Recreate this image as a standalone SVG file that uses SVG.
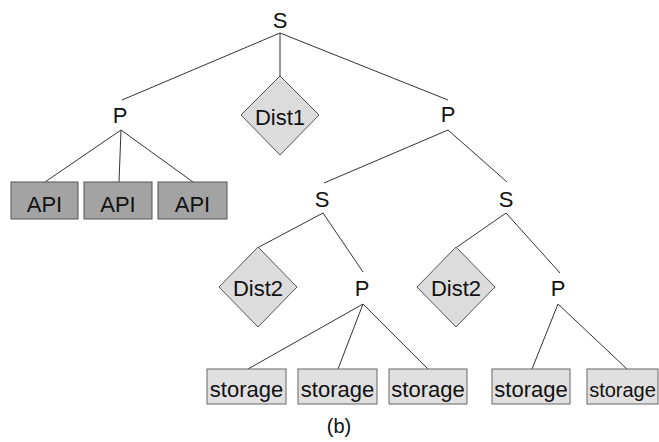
<svg xmlns="http://www.w3.org/2000/svg" width="659" height="442" viewBox="0 0 659 442">
<style>
text{font-family:"Liberation Sans",Arial,sans-serif;font-size:22px;fill:#111;text-anchor:middle}
.api{fill:#a3a3a3;stroke:#555;stroke-width:1}
.sto{fill:#e0e0e0;stroke:#666;stroke-width:1}
.dia{fill:#dcdcdc;stroke:#555;stroke-width:1}
#connectors line{stroke:#333;stroke-width:1}
</style>
<rect width="659" height="442" fill="#fff"/>
<g id="connectors">
<line x1="280" y1="33" x2="122" y2="100"/>
<line x1="280" y1="33" x2="280" y2="76"/>
<line x1="280" y1="33" x2="448" y2="100"/>
<line x1="121" y1="130" x2="45" y2="182"/>
<line x1="121" y1="130" x2="119" y2="182"/>
<line x1="121" y1="130" x2="193" y2="182"/>
<line x1="448" y1="130" x2="324" y2="183"/>
<line x1="448" y1="130" x2="507" y2="182"/>
<line x1="323" y1="213" x2="259" y2="247"/>
<line x1="323" y1="213" x2="363" y2="272"/>
<line x1="506" y1="213" x2="457" y2="247"/>
<line x1="506" y1="213" x2="560" y2="273"/>
<line x1="363" y1="304" x2="248" y2="369"/>
<line x1="363" y1="304" x2="338" y2="369"/>
<line x1="363" y1="304" x2="428" y2="369"/>
<line x1="558" y1="304" x2="532" y2="369"/>
<line x1="558" y1="304" x2="627" y2="369"/>
</g>
<g id="s-root"><text x="280" y="28">S</text></g>
<g id="p-left"><text x="120" y="123">P</text></g>
<g id="dist1"><polygon class="dia" points="280,76 319,115 280,155 241,115"/><text x="280" y="125">Dist1</text></g>
<g id="p-right"><text x="448" y="122">P</text></g>
<g id="api1"><rect class="api" x="11" y="182" width="67" height="37"/><text x="44.5" y="212">API</text></g>
<g id="api2"><rect class="api" x="84" y="182" width="68" height="37"/><text x="118" y="212">API</text></g>
<g id="api3"><rect class="api" x="158" y="182" width="69" height="37"/><text x="192.5" y="212">API</text></g>
<g id="s-left"><text x="322" y="207">S</text></g>
<g id="s-right"><text x="506" y="207">S</text></g>
<g id="dist2a"><polygon class="dia" points="258,247 297,287 258,327 219,287"/><text x="258" y="296">Dist2</text></g>
<g id="p-mid"><text x="362" y="296">P</text></g>
<g id="dist2b"><polygon class="dia" points="456,247 495,287 456,327 417,287"/><text x="456" y="296">Dist2</text></g>
<g id="p-bottom-right"><text x="558" y="296">P</text></g>
<g id="storage1"><rect class="sto" x="207" y="369" width="79" height="35"/><text x="246.5" y="397">storage</text></g>
<g id="storage2"><rect class="sto" x="298" y="369" width="79" height="35"/><text x="337.5" y="397">storage</text></g>
<g id="storage3"><rect class="sto" x="389" y="369" width="78" height="35"/><text x="428" y="397">storage</text></g>
<g id="storage4"><rect class="sto" x="492" y="369" width="78" height="35"/><text x="531" y="397">storage</text></g>
<g id="storage5"><rect class="sto" x="587" y="369" width="71" height="35"/><text x="622.5" y="397" style="font-size:20px">storage</text></g>
<g id="caption"><text x="339" y="433" style="font-size:20px">(b)</text></g>
</svg>
